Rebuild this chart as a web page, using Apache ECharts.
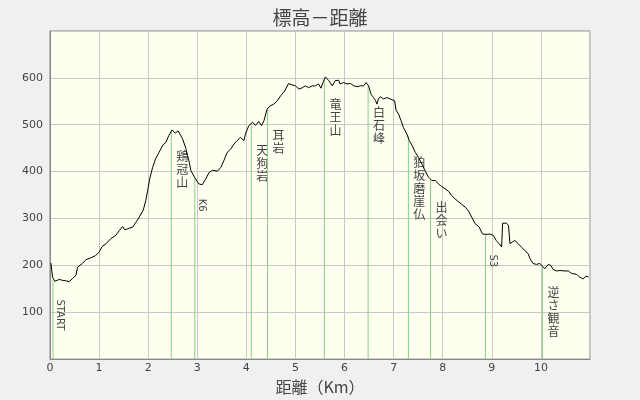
<!DOCTYPE html>
<html>
<head>
<meta charset="utf-8">
<script src="https://cdn.jsdelivr.net/npm/echarts@6/dist/echarts.min.js"></script>
<style>html,body{margin:0;padding:0;background:#f0f0f0;}#c{width:640px;height:400px;}</style>
</head>
<body>
<div id="c"></div>
<script>
const distKm = [0.02,0.05,0.1,0.14,0.19,0.26,0.33,0.39,0.46,0.53,0.56,0.66,0.73,0.83,0.93,1.0,1.06,1.14,1.24,1.34,1.41,1.48,1.52,1.58,1.69,1.75,1.82,1.90,1.95,1.99,2.03,2.09,2.15,2.22,2.30,2.36,2.42,2.49,2.55,2.61,2.70,2.76,2.83,2.87,2.95,3.03,3.10,3.17,3.24,3.31,3.41,3.48,3.54,3.61,3.68,3.75,3.81,3.88,3.95,3.98,4.05,4.12,4.19,4.25,4.31,4.36,4.42,4.48,4.56,4.63,4.70,4.78,4.86,4.93,5.0,5.07,5.14,5.20,5.27,5.34,5.41,5.47,5.52,5.56,5.61,5.68,5.75,5.81,5.88,5.91,5.98,6.05,6.12,6.19,6.26,6.32,6.39,6.44,6.49,6.54,6.59,6.63,6.66,6.69,6.73,6.79,6.86,6.93,6.97,7.02,7.05,7.10,7.15,7.20,7.27,7.32,7.38,7.44,7.51,7.58,7.64,7.71,7.78,7.85,7.91,7.98,8.05,8.12,8.18,8.25,8.33,8.39,8.46,8.52,8.59,8.66,8.74,8.81,8.85,8.90,8.96,9.03,9.09,9.15,9.20,9.22,9.30,9.34,9.37,9.42,9.47,9.54,9.60,9.67,9.74,9.78,9.84,9.91,9.98,10.03,10.08,10.15,10.20,10.25,10.32,10.39,10.49,10.56,10.62,10.72,10.79,10.86,10.92,10.97];
const elevM = [205,175,166,162,170,168,167,165,172,179,196,204,212,216,221,228,240,246,257,264,274,283,276,278,282,292,303,318,338,360,384,409,427,441,457,462,477,489,482,487,470,452,423,402,387,374,372,384,398,403,401,409,423,441,448,459,466,473,466,480,498,505,499,507,498,509,533,540,544,551,562,572,588,585,583,576,579,583,579,583,583,587,578,590,602,594,583,594,595,587,590,587,588,583,581,583,583,590,583,565,558,552,544,555,560,555,558,555,558,551,531,523,509,494,480,466,455,441,430,415,402,388,381,381,374,368,363,358,349,342,335,330,324,317,303,289,282,267,264,266,267,264,253,246,239,290,290,285,246,250,253,246,239,232,225,214,204,202,204,198,193,202,200,191,188,189,188,188,183,181,175,171,177,175];

const markNames = ['START','鶏冠山','K6','天狗岩','耳岩','竜王山','白石峰','狛坂磨崖仏','出会い','S3','逆さ観音'];
const markKm    = [0.06, 2.47, 2.95, 4.10, 4.43, 5.59, 6.48, 7.30, 7.75, 8.87, 10.03];
const markElev  = [170, 489, 385, 502, 533, 600, 583, 477, 381, 266, 198];

const xTicks = [0,1,2,3,4,5,6,7,8,9,10];
const yTicks = [100,200,300,400,500,600];

const chart = echarts.init(document.getElementById('c'), null, {renderer:'canvas'});
const profile = distKm.map((d,i)=>[d, elevM[i]]);
const marks = markKm.map((d,i)=>[d, markElev[i], i]);

chart.setOption({
  backgroundColor:'#f0f0f0',
  animation:false,
  title:{text:'標高－距離', left:'center', top:3,
    textStyle:{fontFamily:'Noto Sans CJK JP', fontSize:19, fontWeight:'normal', color:'#444'}},
  grid:{left:50, right:50, top:31, bottom:40, show:true, backgroundColor:'#fffff0', borderColor:'#888', borderWidth:1},
  xAxis:{type:'value', min:0, max:11, interval:1,
    name:'距離（Km）', nameLocation:'middle', nameGap:16,
    nameTextStyle:{fontFamily:'Noto Sans CJK JP', fontSize:16, color:'#444'},
    axisLine:{show:true, onZero:false, lineStyle:{color:'#888', width:1}},
    axisTick:{show:false},
    axisLabel:{showMaxLabel:false, margin:4, fontFamily:'DejaVu Sans', fontSize:11, color:'#444',
      formatter:v=> xTicks.includes(v)? String(v):''},
    splitLine:{show:true, lineStyle:{color:'#c8c8c8', width:1}}},
  yAxis:{type:'value', min:0, max:700, interval:100,
    axisLine:{show:true, lineStyle:{color:'#888', width:1}},
    axisTick:{show:false},
    axisLabel:{showMinLabel:false, showMaxLabel:false, margin:7, fontFamily:'DejaVu Sans', fontSize:11, color:'#444',
      formatter:v=> yTicks.includes(v)? String(v):''},
    splitLine:{show:true, lineStyle:{color:'#c8c8c8', width:1}}},
  series:[
    {type:'custom', z:2, data:marks, clip:true,
     renderItem:function(params, api){
       const x = api.value(0), e = api.value(1), idx = api.value(2);
       const p0 = api.coord([x,0]), p1 = api.coord([x,e]);
       const name = markNames[idx];
       const isLatin = /^[A-Za-z0-9]+$/.test(name);
       const children = [{type:'line', shape:{x1:p0[0], y1:p0[1], x2:p1[0], y2:p1[1]},
         style:{stroke:'#88cc88', lineWidth:1}}];
       if(isLatin){
         children.push({type:'text', x:p1[0]+7, y:p1[1]+20, rotation:-Math.PI/2,
           style:{text:name, fontFamily:'DejaVu Sans', fontSize:10, fill:'#444', align:'left', verticalAlign:'middle'}});
       } else {
         children.push({type:'text', x:p1[0]+11, y:p1[1]+20,
           style:{text:name.split('').join('\n'), fontFamily:'Noto Sans CJK JP', fontSize:12, lineHeight:13,
             fill:'#444', align:'center', verticalAlign:'top'}});
       }
       return {type:'group', children:children};
     }},
    {type:'line', z:3, data:profile, symbol:'none', lineStyle:{color:'#000', width:1}, itemStyle:{color:'#000'}}
  ]
});
</script>
</body>
</html>
